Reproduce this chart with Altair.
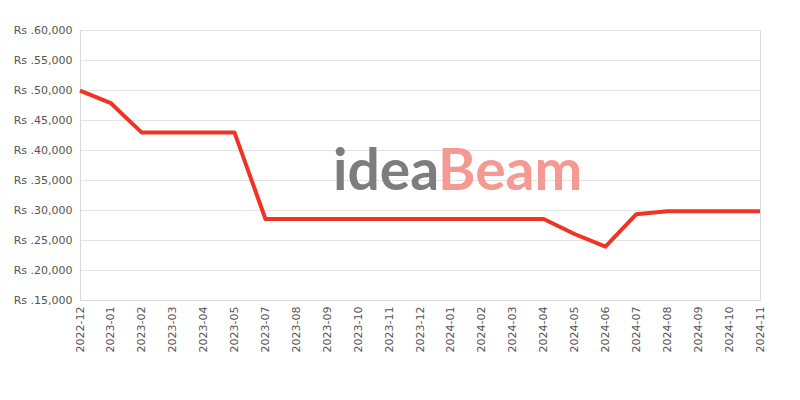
import altair as alt
import pandas as pd

months = ["2022-12", "2023-01", "2023-02", "2023-03", "2023-04", "2023-05",
          "2023-07", "2023-08", "2023-09", "2023-10", "2023-11", "2023-12",
          "2024-01", "2024-02", "2024-03", "2024-04", "2024-05", "2024-06",
          "2024-07", "2024-08", "2024-09", "2024-10", "2024-11"]
prices = [49900, 47800, 42900, 42900, 42900, 42900,
          28500, 28500, 28500, 28500, 28500, 28500,
          28500, 28500, 28500, 28500, 26000, 23900,
          29300, 29800, 29800, 29800, 29800]
watermark_parts = ["idea", "Beam"]

df = pd.DataFrame({"month": months, "price": prices})
wm = pd.DataFrame({"part": watermark_parts})

line = alt.Chart(df).mark_line(color="#EE3424", strokeWidth=4, strokeJoin="round").encode(
    x=alt.X("month:O", sort=months, scale=alt.Scale(type="point", padding=0),
            axis=alt.Axis(title=None, labelAngle=-90, labelColor="#555555", labelFontSize=11,
                          labelFont="DejaVu Sans", domainColor="#d9d9d9", ticks=False,
                          labelPadding=6, grid=False)),
    y=alt.Y("price:Q", scale=alt.Scale(domain=[15000, 60000], nice=False, zero=False),
            axis=alt.Axis(title=None, values=list(range(15000, 60001, 5000)),
                          labelExpr="'Rs .' + format(datum.value, ',')",
                          labelColor="#555555", labelFontSize=11, labelFont="DejaVu Sans",
                          gridColor="#e3e3e3", domainColor="#d9d9d9", ticks=False,
                          labelPadding=8))
)

wm1 = alt.Chart(wm).transform_filter(alt.datum.part == "idea").mark_text(
    font="Lato", fontSize=57, fontWeight="bold",
    color="#7d7d7d", align="left", baseline="alphabetic").encode(
    text="part:N", x=alt.value(253), y=alt.value(160))
wm2 = alt.Chart(wm).transform_filter(alt.datum.part == "Beam").mark_text(
    font="Lato", fontSize=57, fontWeight="bold",
    color="#F59A92", align="left", baseline="alphabetic").encode(
    text="part:N", x=alt.value(358), y=alt.value(160))

chart = alt.layer(wm1, wm2, line).properties(
    width=680, height=270,
    autosize=alt.AutoSizeParams(type="none"),
    padding={"left": 72, "top": 22, "right": 32, "bottom": 92},
).configure_view(stroke="#d9d9d9")

chart.save("out.html", embed_options={"renderer": "svg", "actions": False})
